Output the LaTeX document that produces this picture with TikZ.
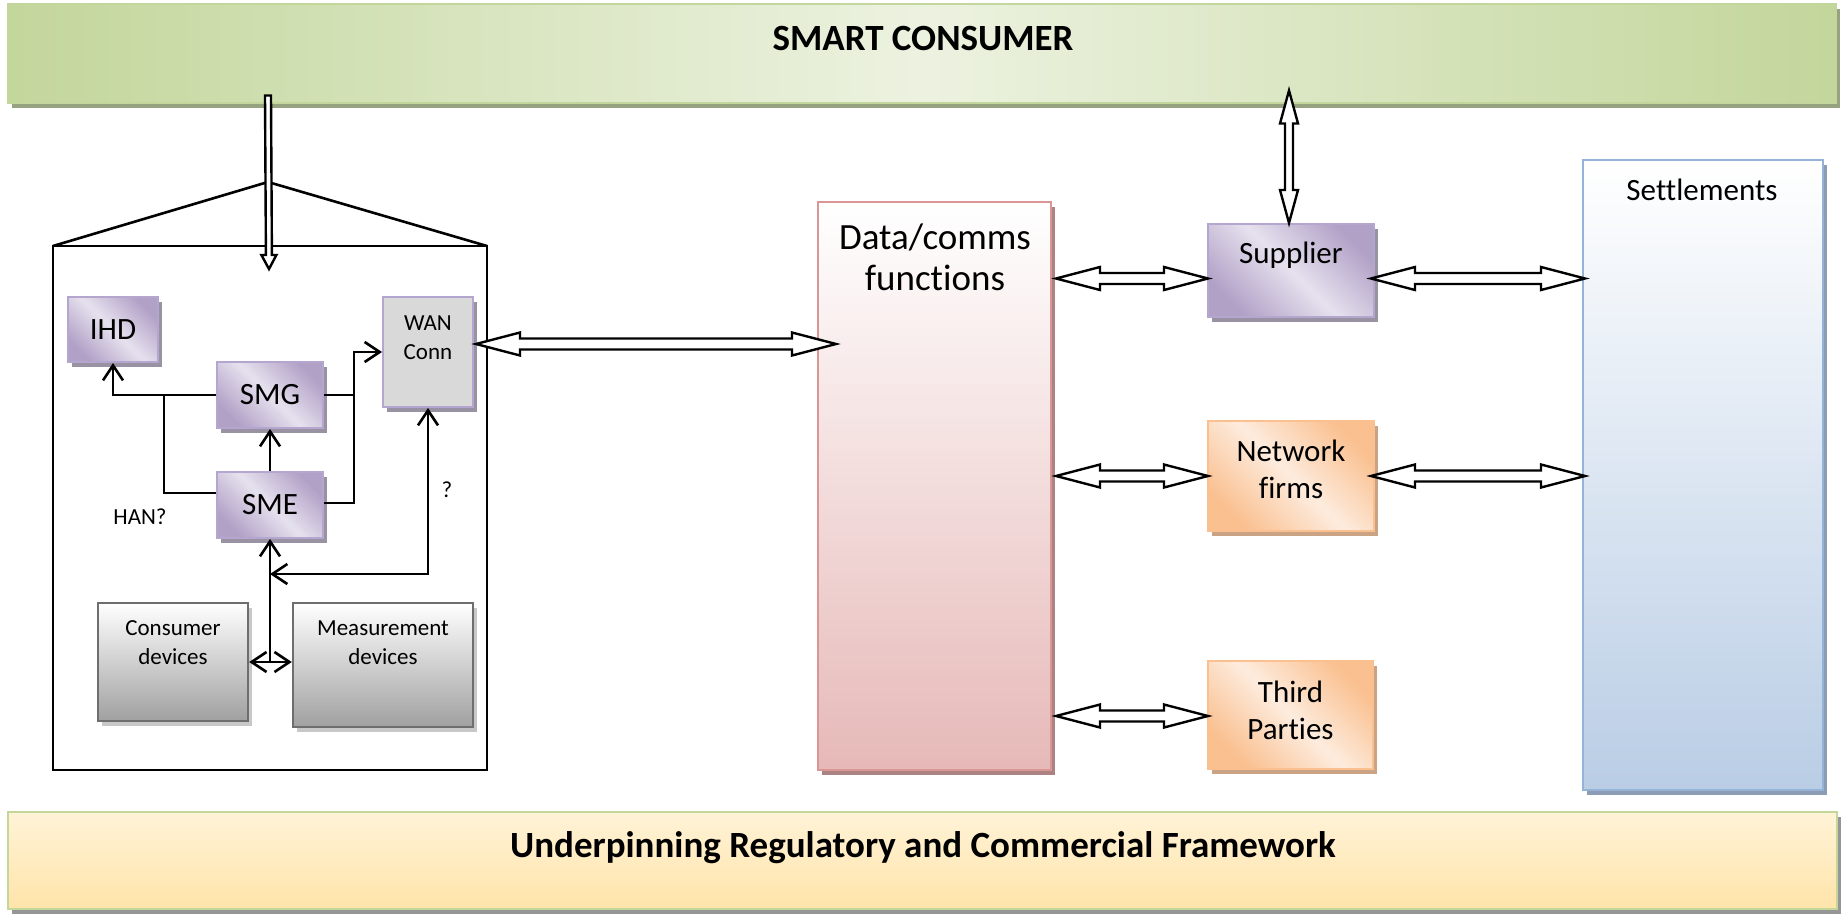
\documentclass[tikz,border=0pt]{standalone}
\usepackage{fontspec}
\setmainfont{Carlito}[Ligatures=NoCommon]
\usetikzlibrary{calc,shadows,arrows.meta}

\definecolor{gDark}{RGB}{195,214,155}
\definecolor{gLight}{RGB}{236,242,224}
\definecolor{gShadow}{RGB}{150,162,128}
\definecolor{yTop}{RGB}{255,243,215}
\definecolor{yBot}{RGB}{255,228,170}
\definecolor{yBorder}{RGB}{196,215,155}
\definecolor{yShadow}{RGB}{150,150,150}
\definecolor{pDark}{RGB}{178,161,199}
\definecolor{pLight}{RGB}{230,225,238}
\definecolor{pBorder}{RGB}{180,166,206}
\definecolor{pShadow}{RGB}{152,146,162}
\definecolor{oDark}{RGB}{250,192,144}
\definecolor{oLight}{RGB}{253,236,222}
\definecolor{oShadow}{RGB}{202,162,132}
\definecolor{rBot}{RGB}{230,185,184}
\definecolor{rBorder}{RGB}{217,150,148}
\definecolor{rShadow}{RGB}{172,130,130}
\definecolor{bBot}{RGB}{185,205,229}
\definecolor{bBorder}{RGB}{149,179,215}
\definecolor{bShadow}{RGB}{140,156,180}
\definecolor{dBot}{RGB}{160,160,160}
\definecolor{dBorder}{RGB}{110,110,110}
\definecolor{dShadow}{RGB}{200,200,200}
\definecolor{wanFill}{RGB}{217,217,217}

\tikzset{
  box/.style={rectangle, inner sep=0pt, line width=2pt, align=center},
  shad/.style={drop shadow={shadow xshift=4pt, shadow yshift=-5pt, opacity=1, fill=#1}},
  purplebox/.style={box, draw=pBorder, top color=pDark, bottom color=pDark, middle color=pLight, shading angle=-45, shad=pShadow},
  orangebox/.style={box, draw=oDark, top color=oDark, bottom color=oDark, middle color=oLight, shading angle=-45, shad=oShadow},
  devbox/.style={box, draw=dBorder, line width=2.4pt, top color=white, bottom color=dBot, shad=dShadow},
  txt/.style={inner sep=0pt, align=center},
  big/.style={font=\fontsize{37}{41}\selectfont},
  mid/.style={font=\fontsize{31}{37}\selectfont},
  small/.style={font=\fontsize{23}{29}\selectfont},
  banner/.style={font=\bfseries\fontsize{37}{43}\selectfont},
  conn/.style={line width=2.6pt, line join=miter},
  hollow/.style={draw=black, fill=white, line width=2.4pt, line join=miter},
  >={Straight Barb[length=15pt,width=20pt,line width=2.6pt]}
}

% double-headed hollow arrow between tips #1 and #2; head length #3, head half width #4, shaft half width #5
\newcommand{\hollowboth}[5]{%
  \coordinate (hA) at ($(#1)!#3!(#2)$);
  \coordinate (hB) at ($(#2)!#3!(#1)$);
  \draw[hollow] (#1) -- ($(hA)!#4!90:(#2)$) -- ($(hA)!#5!90:(#2)$) -- ($(hB)!#5!-90:(#1)$) -- ($(hB)!#4!-90:(#1)$) -- (#2) -- ($(hB)!#4!90:(#1)$) -- ($(hB)!#5!90:(#1)$) -- ($(hA)!#5!-90:(#2)$) -- ($(hA)!#4!-90:(#2)$) -- cycle;}
% single-headed hollow arrow from tail #1 to tip #2
\newcommand{\hollowone}[5]{%
  \coordinate (hA) at ($(#2)!#3!(#1)$);
  \draw[hollow] ($(#1)!#5!90:(#2)$) -- ($(hA)!#5!90:(#2)$) -- ($(hA)!#4!90:(#2)$) -- (#2) -- ($(hA)!#4!-90:(#2)$) -- ($(hA)!#5!-90:(#2)$) -- ($(#1)!#5!-90:(#2)$) -- cycle;}

\begin{document}
\begin{tikzpicture}[x=1pt,y=-1pt]
\useasboundingbox (0,0) rectangle (1841,915);

% banners
\node[box, draw=gDark, left color=gDark, right color=gDark, middle color=gLight, shad=gShadow,
      minimum width=1828pt, minimum height=99pt] (green) at (922,54) {};
\node[txt, banner] (tgreen) at (923,39) {SMART CONSUMER};

\node[box, draw=yBorder, top color=yTop, bottom color=yBot, shad=yShadow,
      minimum width=1829pt, minimum height=97pt] (yellow) at (922.5,860) {};
\node[txt, banner] (tyellow) at (923,848) {Underpinning Regulatory and Commercial Framework};

% house
\coordinate (apex) at (268,182);
\coordinate (eaveL) at (53,246);
\coordinate (eaveR) at (487,246);
\draw[line width=2.6pt, line join=miter] (eaveL) rectangle (487,770);
\draw[line width=2.6pt, line join=miter] (eaveL) -- (apex) -- (eaveR);

% inside the house
\node[purplebox, minimum width=90pt, minimum height=65pt, mid] (ihd) at (113,329.5) {IHD};
\node[purplebox, minimum width=106pt, minimum height=66pt, mid] (smg) at (270,395) {SMG};
\node[purplebox, minimum width=106pt, minimum height=66pt, mid] (sme) at (270,505) {SME};
\node[box, draw=pBorder, fill=wanFill, shad=pShadow, minimum width=90pt, minimum height=110pt] (wan) at (428,352) {};
\node[txt, small] (twan) at (428,338) {WAN\\Conn};
\node[devbox, minimum width=150pt, minimum height=118pt] (cons) at (173,662) {};
\node[txt, small] (tcons) at (173,643) {Consumer\\devices};
\node[devbox, minimum width=180pt, minimum height=124pt] (meas) at (383,665) {};
\node[txt, small] (tmeas) at (383,643) {Measurement\\devices};
\node[txt, small] (han) at (140,517) {HAN?};
\node[txt, small] (qm) at (447,490) {?};

% right side boxes
\node[box, draw=rBorder, top color=white, bottom color=rBot, shad=rShadow, minimum width=233pt, minimum height=568pt] (data) at (934.5,486) {};
\node[txt, big] (tdata) at (935,257) {Data/comms\\functions};
\node[purplebox, minimum width=166pt, minimum height=93pt] (sup) at (1291,270.5) {};
\node[txt, mid] (tsup) at (1291,255) {Supplier};
\node[orangebox, minimum width=166pt, minimum height=110pt] (net) at (1291,476) {};
\node[txt, mid] (tnet) at (1291,469.5) {Network\\firms};
\node[orangebox, minimum width=165pt, minimum height=108pt] (third) at (1290.5,715) {};
\node[txt, mid] (tthird) at (1290.5,710.5) {Third\\Parties};
\node[box, draw=bBorder, top color=white, bottom color=bBot, shad=bShadow, minimum width=240pt, minimum height=630pt] (set) at (1703,475) {};
\node[txt, mid] (tset) at (1702,190) {Settlements};

% thin connectors inside the house
\coordinate (j1) at ($(smg.west)+(-52,0)$);
\coordinate (j2) at ($(smg.east)+(30,0)$);
\coordinate (hub) at (sme.south |- cons.east);
\coordinate (lk) at ($(sme.south)+(0,35)$);
\draw[conn,->] (smg.west) -| (ihd.south);
\draw[conn] (j1) |- ([yshift=12pt]sme.west);
\draw[conn,->] (smg.east) -- (j2) |- (wan.west);
\draw[conn] ([yshift=2pt]sme.east) -| (j2);
\draw[conn,->] (sme.north) -- (smg.south);
\draw[conn,->] (hub) -- (sme.south);
\draw[conn,<->] (lk) -| (wan.south);
\draw[conn,<->] (cons.east) -- (cons.east -| meas.west);

% hollow arrows
\coordinate (a1) at ($(wan.east)+(2,-8)$);
\coordinate (a2) at ($(a1 -| data.west)+(19,0)$);
\hollowboth{a1}{a2}{44pt}{11.5pt}{5.5pt}
\coordinate (b2) at ($(sup.west)+(1,8)$);
\coordinate (b1) at ($(b2 -| data.east)+(4,0)$);
\hollowboth{b1}{b2}{44pt}{11.5pt}{5.5pt}
\coordinate (c1) at ($(sup.east)+(-4,8)$);
\coordinate (c2) at ($(c1 -| set.west)+(3,0)$);
\hollowboth{c1}{c2}{44pt}{11.5pt}{5.5pt}
\coordinate (d2) at ($(net.west)+(1,0)$);
\coordinate (d1) at ($(d2 -| data.east)+(4,0)$);
\hollowboth{d1}{d2}{44pt}{11.5pt}{5.5pt}
\coordinate (e1) at ($(net.east)+(-4,0)$);
\coordinate (e2) at ($(e1 -| set.west)+(3,0)$);
\hollowboth{e1}{e2}{44pt}{11.5pt}{5.5pt}
\coordinate (f2) at ($(third.west)+(1,1)$);
\coordinate (f1) at ($(f2 -| data.east)+(4,0)$);
\hollowboth{f1}{f2}{44pt}{11.5pt}{5.5pt}
\coordinate (g1) at ($(sup.north |- green.south)+(-2,-14)$);
\coordinate (g2) at ($(sup.north)+(-2,0)$);
\hollowboth{g1}{g2}{33pt}{9pt}{4pt}
\coordinate (h1) at ($(apex |- green.south)+(0,-9)$);
\coordinate (h2) at ($(apex)+(1,87)$);
\hollowone{h1}{h2}{14pt}{7.5pt}{3pt}
\end{tikzpicture}
\end{document}
